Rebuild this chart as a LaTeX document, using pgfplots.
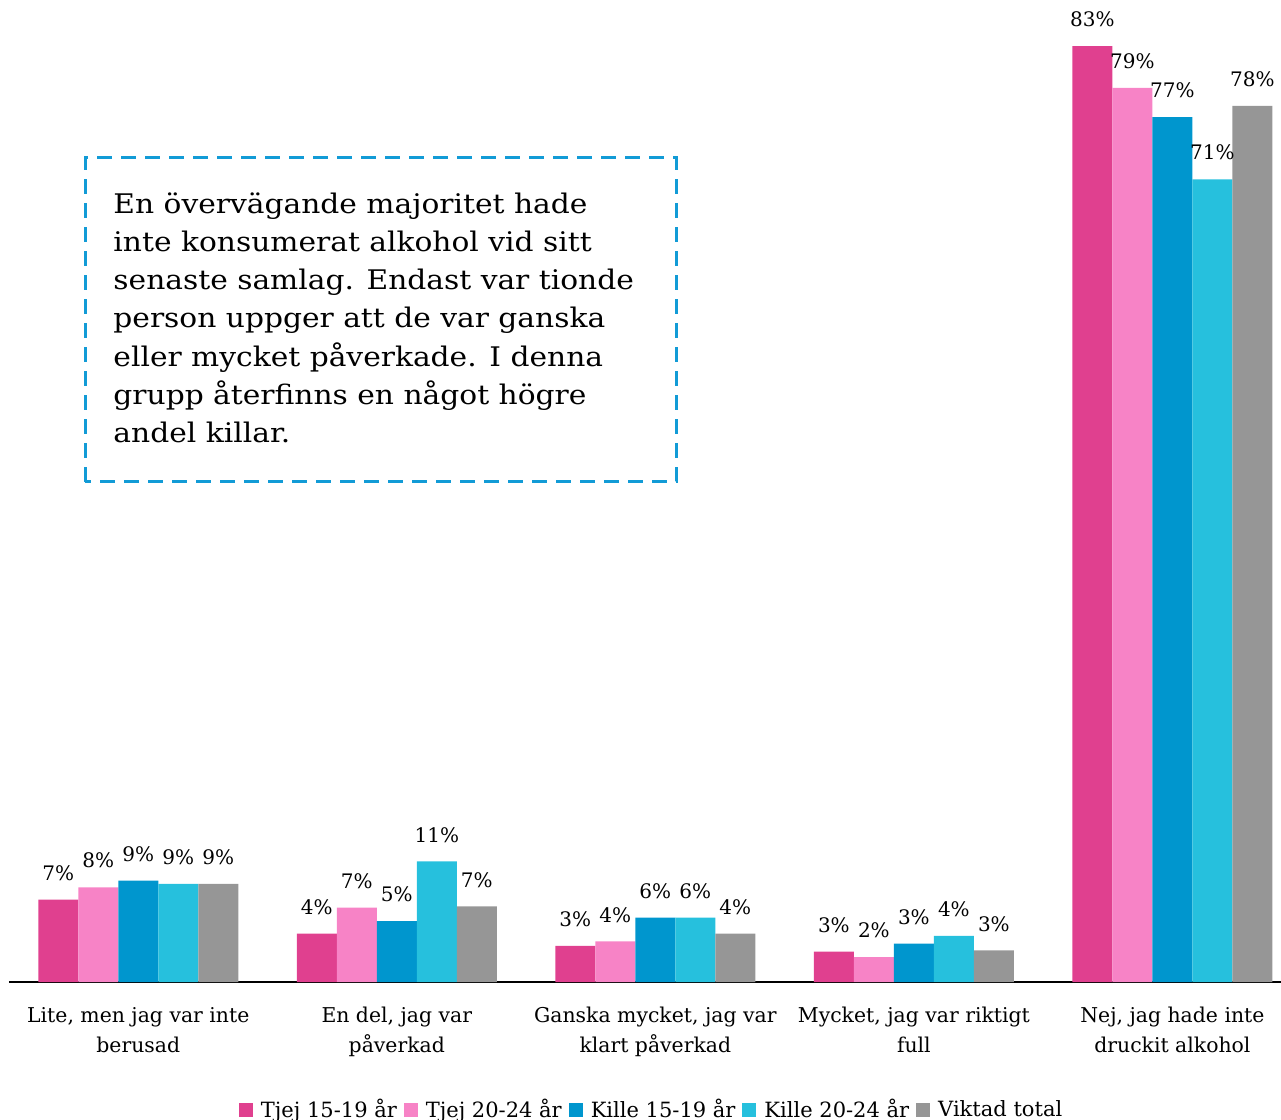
\documentclass[border=0pt]{standalone}
\usepackage{fontspec}
\setmainfont{DejaVu Serif}
\newfontfamily\boxfont{DejaVu Serif}[FakeStretch=1.1]
\usepackage{pgfplots}
\pgfplotsset{compat=1.18}
\definecolor{c1}{HTML}{E0408F}
\definecolor{c2}{HTML}{F783C6}
\definecolor{c3}{HTML}{0096CE}
\definecolor{c4}{HTML}{26C0DD}
\definecolor{c5}{HTML}{969696}
\definecolor{boxc}{HTML}{129BD6}
\begin{document}
\begin{tikzpicture}
\useasboundingbox (-4.5pt,-69pt) rectangle (636pt,491pt);
\begin{axis}[
 at={(0,0)}, anchor=south west,
 scale only axis, width=636pt, height=491pt,
 ybar=0pt, bar width=20pt,
 xmin=-0.5, xmax=4.42, ymin=0, ymax=87.1,
 axis x line=bottom, axis y line=none,
 x axis line style={-, black, line width=0.75pt},
 xtick={0,1,2,3,4}, major tick length=0pt,
 xticklabels={{Lite, men jag var inte\\berusad},{En del, jag var\\påverkad},{Ganska mycket, jag var\\klart påverkad},{Mycket, jag var riktigt\\full},{Nej, jag hade inte\\druckit alkohol}},
 xticklabel style={align=center, font=\fontsize{10.2}{15}\selectfont, yshift=-9pt},
 /pgf/number format/assume math mode=true,
 nodes near coords={\pgfmathprintnumber[fixed,precision=0]{\pgfplotspointmeta}\%},
 every node near coord/.append style={font=\fontsize{10}{12}\selectfont, anchor=south, yshift=6pt},
 clip=false,
 legend style={at={(0.506,-0.130)}, anchor=center, draw=none, legend columns=5,
   font=\fontsize{10.5}{12}\selectfont,
   /tikz/every odd column/.append style={column sep=2pt},
   /tikz/every even column/.append style={column sep=1.5pt}},
 legend image code/.code={\fill[#1] (0pt,-3.5pt) rectangle (7pt,3.5pt);},
]
\addplot[fill=c1, draw=none] coordinates {(0,7.3) (1,4.3) (2,3.2) (3,2.7) (4,83.0)};
\addplot[fill=c2, draw=none] coordinates {(0,8.4) (1,6.6) (2,3.6) (3,2.2) (4,79.3)};
\addplot[fill=c3, draw=none] coordinates {(0,9.0) (1,5.4) (2,5.7) (3,3.4) (4,76.7)};
\addplot[fill=c4, draw=none] coordinates {(0,8.7) (1,10.7) (2,5.7) (3,4.1) (4,71.2)};
\addplot[fill=c5, draw=none] coordinates {(0,8.7) (1,6.7) (2,4.3) (3,2.8) (4,77.7)};
\legend{Tjej 15-19 år, Tjej 20-24 år, Kille 15-19 år, Kille 20-24 år, Viktad total}
\draw[boxc, line width=1.5pt, dash pattern=on 7.5pt off 4.5pt]
  (axis description cs:0.0598,0.5092) rectangle (axis description cs:0.5244,0.8391);
\node[anchor=north west, inner sep=0pt, align=left, font=\boxfont\fontsize{13.5}{19.15}\selectfont]
  at (axis description cs:0.0818,0.8045)
  {En övervägande majoritet hade\\inte konsumerat alkohol vid sitt\\senaste samlag. Endast var tionde\\person uppger att de var ganska\\eller mycket påverkade. I denna\\grupp återfinns en något högre\\andel killar.};
\end{axis}
\end{tikzpicture}
\end{document}
